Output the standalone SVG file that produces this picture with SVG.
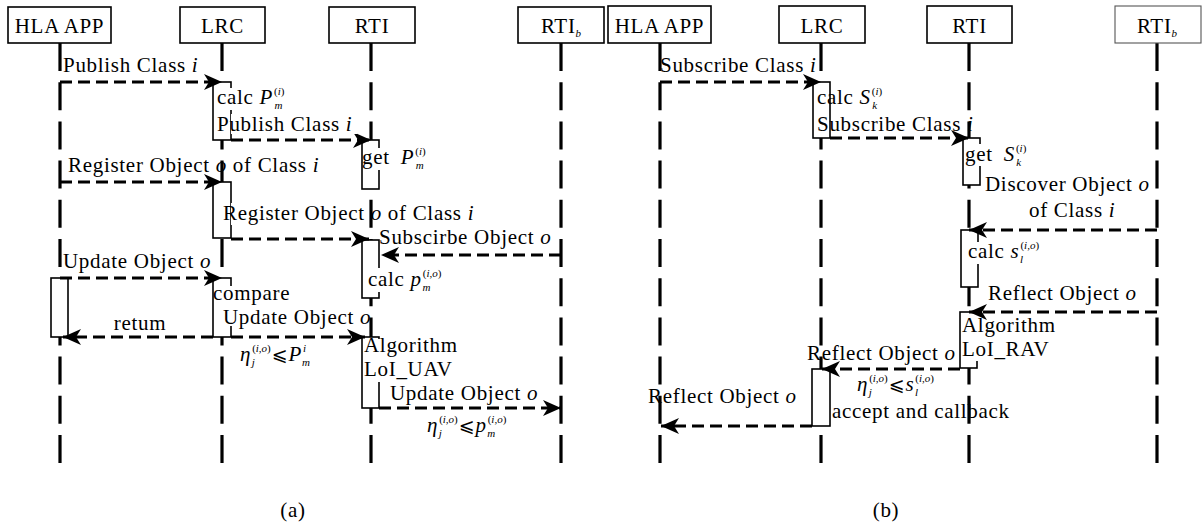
<svg xmlns="http://www.w3.org/2000/svg" width="1202" height="527" viewBox="0 0 1202 527">
<defs>
<style>
text{font-family:"Liberation Serif","DejaVu Serif",serif;font-size:21px;fill:#000;letter-spacing:0.7px}
.it{font-style:italic}
.sc{font-size:11px;letter-spacing:0}
.m{font-family:"DejaVu Sans","Liberation Serif",serif;font-size:19px}
.box{fill:#fff;stroke:#000;stroke-width:1.6}
.boxg{fill:#fff;stroke:#555;stroke-width:1.1}
.life{stroke:#000;stroke-width:3.2;stroke-dasharray:28 11.2;fill:none}
.act{fill:#fff;stroke:#000;stroke-width:1.6}
.msg{stroke:#000;stroke-width:3.2;stroke-dasharray:12 6;fill:none;marker-end:url(#ah)}
.bg{fill:#fff;stroke:none}
</style>
<marker id="ah" markerUnits="userSpaceOnUse" markerWidth="20" markerHeight="20" viewBox="0 0 20 20" refX="18" refY="10" orient="auto">
<path d="M0,2 L18,10 L0,18 L5,10 z" fill="#000"/>
</marker>
</defs>
<rect width="1202" height="527" fill="#fff"/>

<!-- Panel (a) -->
<g id="a-hla">
<line class="life" x1="60" y1="43" x2="60" y2="463"/>
<rect class="box" x="8" y="7" width="103" height="36"/>
<text x="59.5" y="33" text-anchor="middle">HLA APP</text>
<rect class="act" x="51" y="278" width="17" height="59"/>
</g>
<g id="a-lrc">
<line class="life" x1="222" y1="43" x2="222" y2="463"/>
<rect class="box" x="180" y="7" width="85" height="36"/>
<text x="222.5" y="33" text-anchor="middle">LRC</text>
<rect class="act" x="213" y="82" width="18" height="58"/>
<rect class="bg" x="215" y="88" width="60" height="22"/>
<text x="217" y="104">calc <tspan class="it">P</tspan><tspan class="sc" dx="1" dy="-9">(<tspan class="it">i</tspan>)</tspan><tspan class="sc it" dx="-10" dy="14">m</tspan></text>
<rect class="act" x="213" y="182" width="18" height="56"/>
<rect class="act" x="213" y="278" width="18" height="59"/>
<rect class="bg" x="215" y="286" width="82" height="40"/>
<text x="213" y="300">compare</text>
</g>
<g id="a-rti">
<line class="life" x1="371" y1="43" x2="371" y2="463"/>
<rect class="box" x="329" y="7" width="86" height="36"/>
<text x="372" y="33" text-anchor="middle">RTI</text>
<rect class="act" x="362" y="140" width="17" height="49"/>
<rect class="bg" x="364" y="148" width="60" height="22"/>
<text x="362" y="164">get <tspan class="it" dx="5">P</tspan><tspan class="sc" dx="1" dy="-9">(<tspan class="it">i</tspan>)</tspan><tspan class="sc it" dx="-10" dy="14">m</tspan></text>
<rect class="act" x="362" y="240" width="17" height="58"/>
<rect class="bg" x="366" y="268" width="70" height="24"/>
<text x="368" y="286">calc <tspan class="it">p</tspan><tspan class="sc" dx="1" dy="-9">(<tspan class="it">i</tspan>,<tspan class="it">o</tspan>)</tspan><tspan class="sc it" dx="-19" dy="14">m</tspan></text>
<rect class="act" x="362" y="337" width="17" height="71"/>
<rect class="bg" x="364" y="339" width="96" height="43"/>
<text x="364" y="352">Algorithm</text>
<text x="364" y="376">LoI_UAV</text>
</g>
<g id="a-rtib">
<line class="life" x1="561" y1="43" x2="561" y2="463"/>
<rect class="box" x="518" y="7" width="86" height="36"/>
<text x="561" y="33" text-anchor="middle">RTI<tspan class="sc it" dy="4">b</tspan></text>
</g>

<!-- Panel (b) -->
<g id="b-hla">
<line class="life" x1="660" y1="43" x2="660" y2="463"/>
<rect class="box" x="608" y="6" width="103" height="37"/>
<text x="659.5" y="33" text-anchor="middle">HLA APP</text>
</g>
<g id="b-lrc">
<line class="life" x1="821" y1="43" x2="821" y2="463"/>
<rect class="box" x="779" y="6" width="86" height="37"/>
<text x="822" y="33" text-anchor="middle">LRC</text>
<rect class="act" x="813" y="82" width="17" height="56"/>
<text x="817" y="104">calc <tspan class="it">S</tspan><tspan class="sc" dx="1" dy="-9">(<tspan class="it">i</tspan>)</tspan><tspan class="sc it" dx="-10" dy="14">k</tspan></text>
<rect class="act" x="812" y="369" width="18" height="57"/>
<text x="832" y="418">accept and callback</text>
</g>
<g id="b-rti">
<line class="life" x1="969" y1="43" x2="969" y2="463"/>
<rect class="box" x="927" y="6" width="85" height="37"/>
<text x="969.5" y="33" text-anchor="middle">RTI</text>
<rect class="act" x="963" y="138" width="17" height="47"/>
<rect class="bg" x="965" y="144" width="56" height="22"/>
<text x="965" y="161">get <tspan class="it" dx="5">S</tspan><tspan class="sc" dx="1" dy="-9">(<tspan class="it">i</tspan>)</tspan><tspan class="sc it" dx="-10" dy="14">k</tspan></text>
<rect class="act" x="961" y="230" width="17" height="57"/>
<rect class="bg" x="963" y="242" width="70" height="22"/>
<text x="968" y="258">calc <tspan class="it">s</tspan><tspan class="sc" dx="1" dy="-9">(<tspan class="it">i</tspan>,<tspan class="it">o</tspan>)</tspan><tspan class="sc it" dx="-19" dy="14">l</tspan></text>
<rect class="act" x="960" y="312" width="17" height="56"/>
<rect class="bg" x="962" y="315" width="96" height="46"/>
<text x="962" y="332">Algorithm</text>
<text x="962" y="356">LoI_RAV</text>
</g>
<g id="b-rtib">
<line class="life" x1="1157" y1="43" x2="1157" y2="463"/>
<rect class="boxg" x="1115" y="6" width="86" height="37"/>
<text x="1157" y="33" text-anchor="middle">RTI<tspan class="sc it" dy="4">b</tspan></text>
</g>

<g id="connectors">
<!-- panel (a) -->
<line class="msg" x1="60" y1="82" x2="222" y2="82"/>
<text x="63" y="72">Publish Class <tspan class="it">i</tspan></text>
<line class="msg" x1="231" y1="140" x2="371" y2="140"/>
<rect class="bg" x="231" y="114" width="126" height="20"/>
<text x="217" y="131">Publish Class <tspan class="it">i</tspan></text>
<line class="msg" x1="60" y1="182" x2="222" y2="182"/>
<text x="68" y="172">Register Object <tspan class="it">o</tspan> of Class <tspan class="it">i</tspan></text>
<line class="msg" x1="231" y1="239" x2="369" y2="239"/>
<rect class="bg" x="231" y="203" width="40" height="22"/>
<text x="223" y="220">Register Object <tspan class="it">o</tspan> of Class <tspan class="it">i</tspan></text>
<line class="msg" x1="561" y1="255" x2="381" y2="255"/>
<text x="379" y="244">Subscirbe Object <tspan class="it">o</tspan></text>
<line class="msg" x1="60" y1="278" x2="222" y2="278"/>
<text x="63" y="268">Update Object <tspan class="it">o</tspan></text>
<line class="msg" x1="213" y1="337" x2="63" y2="337"/>
<text x="140" y="330" text-anchor="middle">retum</text>
<line class="msg" x1="231" y1="337" x2="365" y2="337"/>
<text x="223" y="324">Update Object <tspan class="it">o</tspan></text>
<text x="240" y="361"><tspan class="it">η</tspan><tspan class="sc" dx="1" dy="-9">(<tspan class="it">i</tspan>,<tspan class="it">o</tspan>)</tspan><tspan class="sc it" dx="-19" dy="14">j</tspan><tspan class="m" dx="17" dy="-5">⩽</tspan><tspan class="it">P</tspan><tspan class="sc it" dx="1" dy="-9">i</tspan><tspan class="sc it" dx="-4" dy="14">m</tspan></text>
<line class="msg" x1="379" y1="408" x2="561" y2="408"/>
<text x="390" y="400">Update Object <tspan class="it">o</tspan></text>
<text x="427" y="432"><tspan class="it">η</tspan><tspan class="sc" dx="1" dy="-9">(<tspan class="it">i</tspan>,<tspan class="it">o</tspan>)</tspan><tspan class="sc it" dx="-19" dy="14">j</tspan><tspan class="m" dx="17" dy="-5">⩽</tspan><tspan class="it">p</tspan><tspan class="sc" dx="1" dy="-9">(<tspan class="it">i</tspan>,<tspan class="it">o</tspan>)</tspan><tspan class="sc it" dx="-19" dy="14">m</tspan></text>
<!-- panel (b) -->
<line class="msg" x1="660" y1="82" x2="821" y2="82"/>
<text x="660" y="72">Subscribe Class <tspan class="it">i</tspan></text>
<line class="msg" x1="830" y1="138" x2="969" y2="138"/>
<text x="817" y="131">Subscribe Class <tspan class="it">i</tspan></text>
<line class="msg" x1="1157" y1="230" x2="969" y2="230"/>
<text x="985" y="191">Discover Object <tspan class="it">o</tspan></text>
<text x="1029" y="217">of Class <tspan class="it">i</tspan></text>
<line class="msg" x1="1157" y1="312" x2="969" y2="312"/>
<text x="988" y="300">Reflect Object <tspan class="it">o</tspan></text>
<line class="msg" x1="960" y1="369" x2="822" y2="369"/>
<text x="807" y="360">Reflect Object <tspan class="it">o</tspan></text>
<text x="857" y="391"><tspan class="it">η</tspan><tspan class="sc" dx="1" dy="-9">(<tspan class="it">i</tspan>,<tspan class="it">o</tspan>)</tspan><tspan class="sc it" dx="-19" dy="14">j</tspan><tspan class="m" dx="17" dy="-5">⩽</tspan><tspan class="it">s</tspan><tspan class="sc" dx="1" dy="-9">(<tspan class="it">i</tspan>,<tspan class="it">o</tspan>)</tspan><tspan class="sc it" dx="-19" dy="14">l</tspan></text>
<line class="msg" x1="812" y1="426" x2="661" y2="426"/>
<text x="648" y="403">Reflect Object <tspan class="it">o</tspan></text>
</g>

<text x="293" y="517" text-anchor="middle">(a)</text>
<text x="886" y="517" text-anchor="middle">(b)</text>
</svg>
